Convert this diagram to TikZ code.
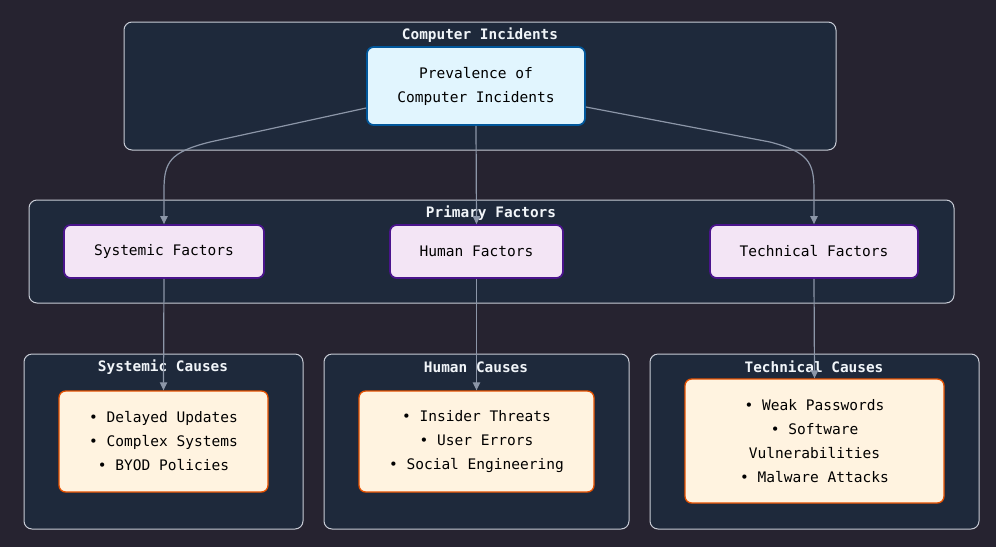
\documentclass[tikz,border=0pt]{standalone}
\usepackage{fontspec}
\setmonofont{DejaVu Sans Mono}
\usetikzlibrary{arrows.meta}
\definecolor{bgc}{RGB}{38,35,48}
\definecolor{clfill}{RGB}{30,41,59}
\definecolor{clline}{RGB}{200,204,214}
\definecolor{edgec}{RGB}{140,150,168}
\definecolor{topfill}{RGB}{225,245,254}
\definecolor{topline}{RGB}{1,87,155}
\definecolor{facfill}{RGB}{243,229,245}
\definecolor{facline}{RGB}{74,20,140}
\definecolor{caufill}{RGB}{255,243,224}
\definecolor{cauline}{RGB}{230,81,0}
\definecolor{titlec}{RGB}{241,245,249}
\tikzset{
  cluster/.style={draw=clline, fill=clfill, line width=0.75pt, rounded corners=6pt},
  cltitle/.style={text=titlec, font=\ttfamily\bfseries\fontsize{10.8pt}{13pt}\selectfont, inner sep=0pt},
  basebox/.style={rounded corners=5pt, line width=1.3pt, inner sep=0pt, align=center,
     font=\ttfamily\fontsize{10.9pt}{18pt}\selectfont, text=black},
  topbox/.style={basebox, draw=topline, fill=topfill},
  facbox/.style={basebox, draw=facline, fill=facfill},
  caubox/.style={basebox, draw=cauline, fill=caufill, line width=1pt},
  edge/.style={draw=edgec, line width=0.9pt, -{Triangle[length=6pt,width=5.5pt]}},
}
\begin{document}
\begin{tikzpicture}[x=0.75pt,y=-0.75pt]
\fill[bgc] (0,0) rectangle (996,547);
\useasboundingbox (0,0) rectangle (996,547);
% clusters
\draw[cluster] (124,22) rectangle (836,150);
\node[cltitle] (t1) at (480,35) {Computer Incidents};
\draw[cluster] (29,200) rectangle (954,303);
\node[cltitle] (t2) at (491,213) {Primary Factors};
\draw[cluster] (24,354) rectangle (303,529);
\node[cltitle] (t3) at (163,367) {Systemic Causes};
\draw[cluster] (324,354) rectangle (629,529);
\node[cltitle] (t4) at (476,367) {Human Causes};
\draw[cluster] (650,354) rectangle (979,529);
\node[cltitle] (t5) at (814,367) {Technical Causes};
% nodes
\node[topbox, minimum width=163.5pt, minimum height=58.5pt] (P) at (476,86) {Prevalence of\\Computer Incidents};
\node[facbox, minimum width=150pt, minimum height=39.75pt] (S) at (164,251.5) {Systemic Factors};
\node[facbox, minimum width=129.75pt, minimum height=39.75pt] (H) at (476.5,251.5) {Human Factors};
\node[facbox, minimum width=156pt, minimum height=39.75pt] (T) at (814,251.5) {Technical Factors};
\node[caubox, minimum width=156.75pt, minimum height=75.75pt] (SC) at (163.5,441.5) {• Delayed Updates\\• Complex Systems\\• BYOD Policies};
\node[caubox, minimum width=176.25pt, minimum height=75.75pt] (HC) at (476.5,441.5) {• Insider Threats\\• User Errors\\• Social Engineering};
\node[caubox, minimum width=194.25pt, minimum height=93pt] (TC) at (814.5,441) {• Weak Passwords\\• Software\\Vulnerabilities\\• Malware Attacks};
% edges
\coordinate (sa) at (210,142);
\coordinate (sb) at (164,190);
\coordinate (ta) at (770,142);
\coordinate (tb) at (814,190);
\draw[edge] ([yshift=-16.5pt]P.west) -- (sa) .. controls (170,152) and (164,162) .. (sb) -- (S.north);
\draw[edge] (P.south) -- (H.north);
\draw[edge] ([yshift=-15.75pt]P.east) -- (ta) .. controls (808,152) and (814,162) .. (tb) -- (T.north);
\draw[edge] (S.south) -- (SC.north);
\draw[edge] (H.south) -- (HC.north);
\draw[edge] (T.south) -- (TC.north);
\end{tikzpicture}
\end{document}
